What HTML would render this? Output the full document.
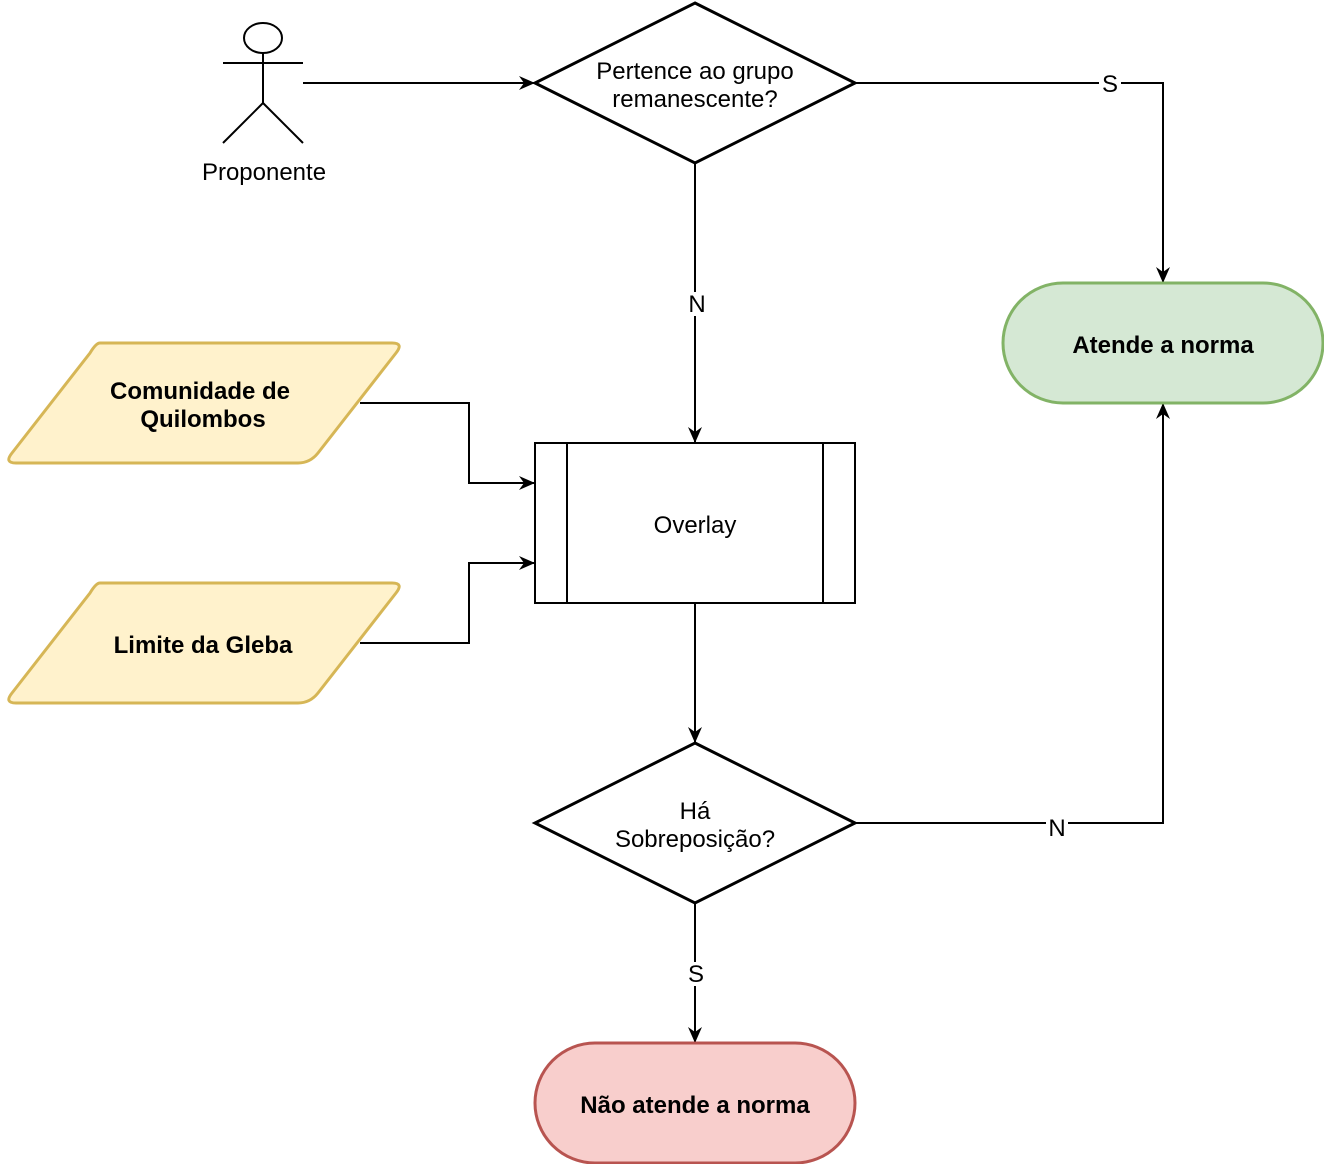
<!DOCTYPE html>
<html><head><meta charset="utf-8"><style>
html,body{margin:0;padding:0;background:#fff;}
svg{display:block;}
text{font-family:"Liberation Sans",Helvetica,Arial,sans-serif;font-size:24px;fill:#000;}
.b{font-weight:bold;}
</style></head><body>
<svg width="1324" height="1164" viewBox="0 0 1324 1164" xmlns="http://www.w3.org/2000/svg">
<defs>
<marker id="a" markerWidth="16" markerHeight="16" refX="15" refY="8" orient="auto" markerUnits="userSpaceOnUse">
<path d="M0,1 L16,8 L0,15 L5,8 Z" fill="#000"/>
</marker>
</defs>
<g stroke="#000" stroke-width="2" fill="none">
<ellipse cx="263" cy="38" rx="19" ry="15" fill="#fff"/>
<line x1="263" y1="53" x2="263" y2="103"/>
<line x1="223" y1="63" x2="303" y2="63"/>
<line x1="263" y1="103" x2="223" y2="143"/>
<line x1="263" y1="103" x2="303" y2="143"/>
</g>
<text x="264" y="180" text-anchor="middle">Proponente</text>
<g stroke="#000" stroke-width="2" fill="none">
<path d="M303,83 L534,83" marker-end="url(#a)"/>
<path d="M855,83 L1163,83 L1163,282" marker-end="url(#a)"/>
<path d="M695,163 L695,442" marker-end="url(#a)"/>
<path d="M360,403 L469,403 L469,483 L534,483" marker-end="url(#a)"/>
<path d="M360,643 L469,643 L469,563 L534,563" marker-end="url(#a)"/>
<path d="M695,603 L695,742" marker-end="url(#a)"/>
<path d="M855,823 L1163,823 L1163,404" marker-end="url(#a)"/>
<path d="M695,903 L695,1042" marker-end="url(#a)"/>
</g>
<rect x="1099" y="72" width="22" height="24" fill="#fff"/>
<text x="1110" y="92" text-anchor="middle">S</text>
<rect x="686" y="292" width="22" height="24" fill="#fff"/>
<text x="697" y="312" text-anchor="middle">N</text>
<rect x="1046" y="816" width="22" height="24" fill="#fff"/>
<text x="1057" y="836" text-anchor="middle">N</text>
<rect x="685" y="962" width="22" height="24" fill="#fff"/>
<text x="696" y="982" text-anchor="middle">S</text>
<polygon points="695,3 855,83 695,163 535,83" fill="#fff" stroke="#000" stroke-width="3"/>
<text x="695" y="79" text-anchor="middle">Pertence ao grupo</text>
<text x="695" y="107" text-anchor="middle">remanescente?</text>
<rect x="1003" y="283" width="320" height="120" rx="60" ry="60" fill="#d5e8d4" stroke="#82b366" stroke-width="3"/>
<text x="1163" y="353" text-anchor="middle" class="b">Atende a norma</text>
<path d="M100,343 L392,343 Q404,343 396,353 L318,453 Q310,463 298,463 L16,463 Q4,463 12,453 L90,353 Q96,343 100,343 Z" fill="#fff2cc" stroke="#d6b656" stroke-width="3"/>
<text x="200" y="399" text-anchor="middle" class="b">Comunidade de</text>
<text x="203" y="427" text-anchor="middle" class="b">Quilombos</text>
<path d="M100,583 L392,583 Q404,583 396,593 L318,693 Q310,703 298,703 L16,703 Q4,703 12,693 L90,593 Q96,583 100,583 Z" fill="#fff2cc" stroke="#d6b656" stroke-width="3"/>
<text x="203" y="653" text-anchor="middle" class="b">Limite da Gleba</text>
<rect x="535" y="443" width="320" height="160" fill="#fff" stroke="#000" stroke-width="2"/>
<line x1="567" y1="443" x2="567" y2="603" stroke="#000" stroke-width="2"/>
<line x1="823" y1="443" x2="823" y2="603" stroke="#000" stroke-width="2"/>
<text x="695" y="533" text-anchor="middle">Overlay</text>
<polygon points="695,743 855,823 695,903 535,823" fill="#fff" stroke="#000" stroke-width="3"/>
<text x="695" y="819" text-anchor="middle">Há</text>
<text x="695" y="847" text-anchor="middle">Sobreposição?</text>
<rect x="535" y="1043" width="320" height="120" rx="60" ry="60" fill="#f8cecc" stroke="#b85450" stroke-width="3"/>
<text x="695" y="1113" text-anchor="middle" class="b">Não atende a norma</text>
</svg>
</body></html>
